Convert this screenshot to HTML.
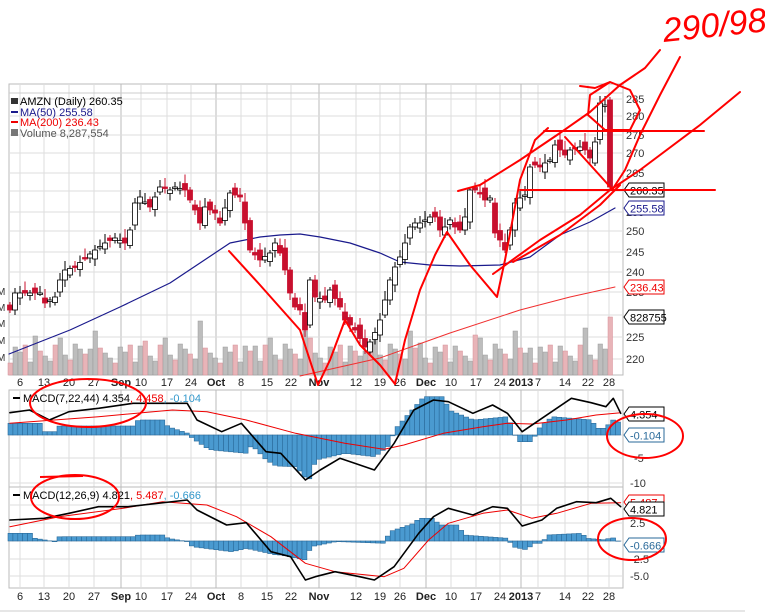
<!DOCTYPE html>
<html><head><meta charset="utf-8"><style>
html,body{margin:0;padding:0;background:#fff;width:765px;height:613px;overflow:hidden}
svg{display:block;font-family:"Liberation Sans",sans-serif}
</style></head><body>
<svg id="s" width="765" height="613" viewBox="0 0 765 613" xmlns="http://www.w3.org/2000/svg"></svg>
<script>
const S=document.getElementById('s');let h='';
function interp(pts,x){for(let i=0;i<pts.length-1;i++){const[a,b]=pts[i],[c,d]=pts[i+1];if(x>=a&&x<=c)return b+(d-b)*(x-a)/(c-a||1);}return x<pts[0][0]?pts[0][1]:pts[pts.length-1][1];}
function pl(pts,st,w){return `<polyline fill="none" stroke="${st}" stroke-width="${w}" stroke-linejoin="round" stroke-linecap="round" points="${pts.map(p=>p.join(',')).join(' ')}"/>`;}
const xl=[[20,'6'],[44,'13'],[69,'20'],[94,'27'],[121,'Sep'],[141,'10'],[167,'17'],[191,'24'],[216,'Oct'],[241,'8'],[267,'15'],[291,'22'],[319,'Nov'],[356,'12'],[380,'19'],[400,'26'],[426,'Dec'],[451,'10'],[476,'17'],[500,'24'],[521,'2013'],[538,'7'],[565,'14'],[588,'22'],[609,'28']];
const bold={'Sep':1,'Oct':1,'Nov':1,'Dec':1,'2013':1};
function panel(y1,y2,hl){h+=`<rect x="9" y="${y1}" width="614" height="${y2-y1}" fill="#fff" stroke="#bbb"/>`;
 xl.forEach(([x,t])=>{h+=`<line x1="${x}" y1="${y1}" x2="${x}" y2="${y2}" stroke="${bold[t]?'#bbb':'#ddd'}"/>`});
 hl.forEach(y=>{h+=`<line x1="9" y1="${y}" x2="623" y2="${y}" stroke="#ddd"/>`});}
const pl_=[[99,'285'],[116,'280'],[135,'275'],[153,'270'],[173,'265'],[191,'260'],[212,'255'],[231,'250'],[252,'245'],[272,'240'],[292,'235'],[315,'230'],[337,'225'],[359,'220']];
panel(84,375,pl_.map(a=>a[0]));
h+=`<line x1="9" y1="93" x2="623" y2="93" stroke="#ccc"/>`;
for(let x=10,i=0;x<615;x+=5,i++){let v=12+((i*37)%21)+(i%7==3?12:0)+(i%11==5?10:0);if(x>605)v=58;const up=(i*13)%3!=0;
 h+=`<rect x="${x-2}" y="${375-v}" width="4.5" height="${v}" fill="${up?'#bdbdbd':'#e8b4b8'}" stroke="${up?'#999':'#d89098'}" stroke-width="0.5"/>`;}
h+=pl([[9,354],[70,330],[120,307],[170,283],[200,263],[230,243],[260,237],[280,235],[300,234],[320,237],[350,243],[380,253],[400,262],[430,265],[460,266],[500,265],[530,257],[560,235],[590,222],[615,208]],'#1a1a8c',1.2);
h+=pl([[300,376],[380,358],[450,333],[520,310],[570,297],[615,287]],'#f03030',1);
const P=[[10,310],[13,293],[40,293],[45,303],[55,297],[60,280],[65,270],[75,267],[85,258],[95,250],[105,243],[115,238],[125,243],[130,230],[135,203],[140,197],[150,207],[155,197],[160,187],[170,190],[175,187],[185,190],[195,210],[200,223],[205,207],[215,213],[220,223],[230,193],[240,197],[245,223],[250,250],[260,260],[270,253],[275,243],[280,253],[285,270],[290,293],[295,307],[300,310],[305,330],[310,280],[315,297],[325,300],[330,290],[340,307],[345,320],[355,330],[365,347],[372,340],[380,320],[385,300],[390,280],[395,267],[400,257],[405,243],[410,227],[415,223],[420,223],[425,220],[430,217],[435,217],[440,230],[445,227],[450,220],[455,227],[460,230],[465,217],[470,190],[475,190],[480,193],[485,200],[490,198],[495,233],[500,240],[505,250],[510,230],[515,203],[520,198],[525,195],[530,167],[535,165],[540,167],[545,163],[550,160],[555,145],[560,150],[565,155],[570,150],[575,148],[580,147],[585,150],[590,158],[595,142],[600,103],[605,105],[610,187]];
let prev=interp(P,5),k=0;
for(let x=10;x<=610;x+=5,k++){const c=interp(P,x);const j=((k*7)%5-2)*2.5;const o=prev+j;prev=c;const t=Math.min(o,c),b=Math.max(o,c);const up=c<=o;
 h+=`<line x1="${x}" y1="${t-3-(k%4)*2}" x2="${x}" y2="${b+3+(k%3)*2}" stroke="${up?'#000':'#c8102e'}"/>`;
 h+=`<rect x="${x-2.5}" y="${t}" width="5" height="${Math.max(b-t,1.5)}" fill="${up?'#fff':'#c8102e'}" stroke="${up?'#000':'#c8102e'}" stroke-width="0.8"/>`;}
pl_.forEach(([y,t])=>{h+=`<text x="626" y="${y+4}" font-size="11" fill="#333">${t}</text>`});
function box(x,y,t,c){h+=`<path d="M${x},${y} l5,-7 h35 v14 h-35z" fill="#fff" stroke="${c}"/><text x="${x+6}" y="${y+4.5}" font-size="11" fill="${c}">${t}</text>`;}
box(624,190,'260.35','#000');box(624,208,'255.58','#1a1a8c');box(624,287,'236.43','#e00');box(624,317,'828755','#000');
[291,307,323,340,357].forEach(y=>h+=`<text x="-3" y="${y+4}" font-size="10" fill="#333">M</text>`);
h+=`<text x="20" y="105" font-size="11" fill="#000">AMZN (Daily) 260.35</text><rect x="11" y="98" width="7" height="6" fill="#333"/>
<line x1="11" y1="112" x2="18" y2="112" stroke="#1a1a8c" stroke-width="2"/><text x="20" y="116" font-size="11" fill="#1a1a8c">MA(50) 255.58</text>
<line x1="11" y1="122" x2="18" y2="122" stroke="#e00" stroke-width="2"/><text x="20" y="126" font-size="11" fill="#e00">MA(200) 236.43</text>
<rect x="11" y="129" width="7" height="7" fill="#777"/><text x="20" y="137" font-size="11" fill="#555">Volume 8,287,554</text>`;
function xlabels(y){xl.forEach(([x,t])=>h+=`<text x="${x}" y="${y}" font-size="11" text-anchor="middle" fill="#222" font-weight="${bold[t]?'bold':'normal'}">${t}</text>`);}
xlabels(386);
const cv=pts=>pts.map(([X,Y])=>[+(X/2.03).toFixed(1),+(370+Y/3).toFixed(1)]);
function hist(z,pts){for(let x=10;x<622;x+=4.9){const y=interp(pts,x);h+=`<rect x="${x-2}" y="${Math.min(y,z)}" width="4.9" height="${Math.abs(y-z)}" fill="#4a9ad0" stroke="#2a6a9a" stroke-width="0.6"/>`;}}
panel(390,487,[411,435,458,483]);
hist(435,cv([[20,160],[80,160],[90,185],[110,185],[120,168],[270,168],[280,150],[330,150],[340,170],[380,190],[390,205],[420,235],[430,240],[500,250],[510,225],[540,270],[560,288],[600,290],[625,335],[640,270],[700,250],[760,260],[790,225],[800,180],[860,80],[900,80],[910,120],[960,150],[1030,140],[1050,215],[1080,215],[1090,180],[1120,140],[1200,150],[1210,175],[1230,175],[1240,148],[1260,160]]));
h+=pl(cv([[20,160],[200,140],[350,120],[420,125],[500,150],[600,190],[700,220],[780,238],[820,225],[900,190],[980,170],[1030,160],[1080,162],[1150,150],[1210,135],[1260,128]]),'#e00',1);
h+=pl(cv([[20,128],[60,120],[100,150],[140,125],[200,115],[270,100],[380,100],[400,150],[450,185],[490,160],[540,245],[570,250],[620,330],[650,300],[690,265],[720,280],[760,300],[800,220],[840,120],[880,90],[910,95],[960,130],[1000,105],[1030,130],[1060,185],[1100,145],[1160,85],[1200,98],[1230,110],[1245,85],[1260,130]]),'#000',1.6);
h+=`<line x1="13" y1="398" x2="20" y2="398" stroke="#000" stroke-width="2"/><text x="23" y="402" font-size="11"><tspan fill="#000">MACD(7,22,44) 4.354</tspan><tspan fill="#e00">, 4.458</tspan><tspan fill="#39c">, -0.104</tspan></text>`;
h+=`<text x="634" y="462" font-size="11" fill="#333">-5</text><text x="630" y="487" font-size="11" fill="#333">-10</text>`;
box(624,414,'4.354','#000');box(624,435,'-0.104','#2a6a9a');
panel(487,588,[505,523,541,559,576]);
hist(541,cv([[20,490],[60,490],[70,505],[110,515],[120,500],[270,500],[280,495],[330,495],[340,505],[380,515],[390,530],[470,545],[500,535],[560,555],[570,555],[620,570],[630,530],[680,515],[690,515],[780,520],[790,485],[840,460],[850,445],[880,445],[890,465],[930,465],[940,495],[1030,505],[1040,530],[1070,540],[1080,520],[1100,520],[1110,495],[1180,490],[1190,505],[1230,510],[1240,500],[1265,525]]));
h+=pl(cv([[20,470],[120,440],[250,415],[330,395],[420,405],[480,440],[550,500],[620,580],[680,605],[780,620],[820,595],[870,510],[910,460],[980,430],[1030,420],[1080,445],[1130,430],[1200,400],[1260,398]]),'#e00',1);
h+=pl(cv([[20,450],[90,445],[140,430],[200,410],[260,410],[380,390],[400,420],[460,465],[500,458],[550,545],[590,560],[620,630],[640,620],[680,605],[730,620],[760,630],[800,590],[850,490],[880,440],[910,415],[960,435],[1000,410],[1030,415],[1060,468],[1100,450],[1130,415],[1170,395],[1210,398],[1240,385],[1260,410]]),'#000',1.6);
h+=`<line x1="13" y1="495" x2="20" y2="495" stroke="#000" stroke-width="2"/><text x="23" y="499" font-size="11"><tspan fill="#000">MACD(12,26,9) 4.821</tspan><tspan fill="#e00">, 5.487</tspan><tspan fill="#39c">, -0.666</tspan></text>`;
[[523,'2.5'],[541,'0.0'],[559,'-2.5'],[576,'-5.0']].forEach(([y,t])=>h+=`<text x="630" y="${y+4}" font-size="11" fill="#333">${t}</text>`);
box(624,502,'5.487','#e00');box(624,509,'4.821','#000');box(624,545,'-0.666','#2a6a9a');
xlabels(600);
h+=`<line x1="0" y1="611" x2="745" y2="611" stroke="#ccc"/>`;
const R='#f00';
[[[229,251],[260,285],[300,330],[318,385],[330,360],[345,320],[360,345],[380,365],[395,384]],
 [[395,384],[405,340],[420,290],[435,255],[447,232],[470,265],[497,297],[505,260],[520,180],[535,140],[548,128]],
 [[458,191],[480,185],[520,160],[560,133],[590,112],[620,85],[645,68],[660,50]],
 [[493,274],[540,240],[580,215],[610,190],[640,170],[700,125],[740,92]],
 [[513,262],[560,235],[600,205],[620,185]],
 [[680,57],[660,95],[640,135],[625,170],[612,190]],
 [[565,137],[613,190]],
 [[544,131],[704,131]],[[520,190],[715,190]],
 [[610,82],[630,90],[640,110],[630,130],[605,130],[588,115],[590,95],[610,82],[595,88],[580,86]]
].forEach(p=>h+=pl(p,R,2));
h+=`<ellipse cx="88" cy="403" rx="58" ry="24" fill="none" stroke="${R}" stroke-width="2"/>
<ellipse cx="645" cy="436" rx="38" ry="22" fill="none" stroke="${R}" stroke-width="2"/>
<ellipse cx="75" cy="497" rx="44" ry="22" fill="none" stroke="${R}" stroke-width="2"/>
<ellipse cx="632" cy="539" rx="34" ry="21" fill="none" stroke="${R}" stroke-width="2"/>
<line x1="40" y1="477" x2="83" y2="476" stroke="${R}" stroke-width="2"/>
<text x="0" y="0" font-size="34" fill="${R}" font-style="italic" transform="translate(664 42) rotate(-6)">290/982</text>`;
S.innerHTML=h;
</script>
</body></html>
